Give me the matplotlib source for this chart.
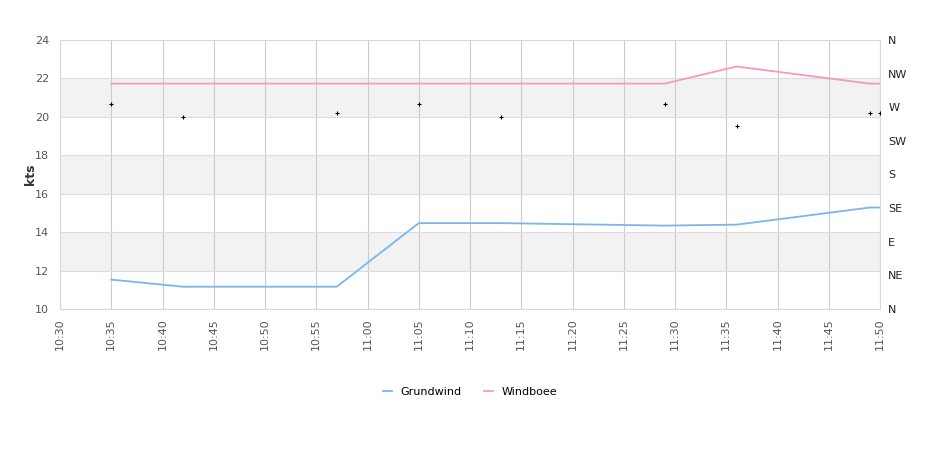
import matplotlib.pyplot as plt
import matplotlib.dates as mdates
import pandas as pd

# data
times = ["10:35", "10:42", "10:57", "11:05", "11:13", "11:29", "11:36", "11:49", "11:50"]
grundwind = [11.53, 11.16, 11.16, 14.47, 14.47, 14.34, 14.39, 15.28, 15.28]
windboee = [21.73, 21.73, 21.73, 21.73, 21.73, 21.73, 22.62, 21.73, 21.73]
direction = [273.7, 257.6, 262.9, 273.7, 256.5, 273.7, 244.5, 262.9, 262.9]
dir_labels = ["N", "NE", "E", "SE", "S", "SW", "W", "NW", "N"]

t = pd.to_datetime(["2024-01-01 " + s for s in times])
t0 = pd.Timestamp("2024-01-01 10:30")
t1 = pd.Timestamp("2024-01-01 11:50")

fig = plt.figure(figsize=(9.4, 4.5), dpi=100)
ax = fig.add_axes([60 / 940, (450 - 309) / 450, 820 / 940, 269 / 450])

# alternating bands
for lo in [12, 16, 20]:
    ax.axhspan(lo, lo + 2, color="#f2f2f2", zorder=0, lw=0)

ax.plot(t, grundwind, color="#7cb5ec", lw=1.3, label="Grundwind", zorder=3)
ax.plot(t, windboee, color="#f49ac2", lw=1.3, label="Windboee", zorder=3)

ax.set_xlim(t0, t1)
ax.set_ylim(10, 24)
ax.set_yticks(range(10, 25, 2))
ax.xaxis.set_major_locator(mdates.MinuteLocator(byminute=range(0, 60, 5)))
ax.xaxis.set_major_formatter(mdates.DateFormatter("%H:%M"))
ax.grid(axis="x", color="#cccccc", lw=0.8)
ax.grid(axis="y", color="#dddddd", lw=0.8)
ax.set_axisbelow(True)
for s in ax.spines.values():
    s.set_color("#d8d8d8")
ax.tick_params(axis="both", length=0, labelsize=8, labelcolor="#555555")
ax.tick_params(axis="x", rotation=90, pad=7)
ax.tick_params(axis="y", pad=8)
ax.set_ylabel("kts", fontsize=9, fontweight="bold", color="#333333", labelpad=-2)

ax2 = ax.twinx()
ax2.plot(t, direction, "+", color="black", ms=3, mew=0.8, zorder=4)
ax2.set_ylim(0, 360)
ax2.set_yticks(range(0, 361, 45))
ax2.set_yticklabels(dir_labels)
ax2.tick_params(axis="y", length=0, labelsize=8, labelcolor="#222222", pad=6)
for s in ax2.spines.values():
    s.set_visible(False)

fig.legend(loc="lower center", bbox_to_anchor=(0.5, 0.095), ncol=2, frameon=False,
           fontsize=8, handlelength=0.8, columnspacing=2)

plt.savefig("out.png", dpi=100)
